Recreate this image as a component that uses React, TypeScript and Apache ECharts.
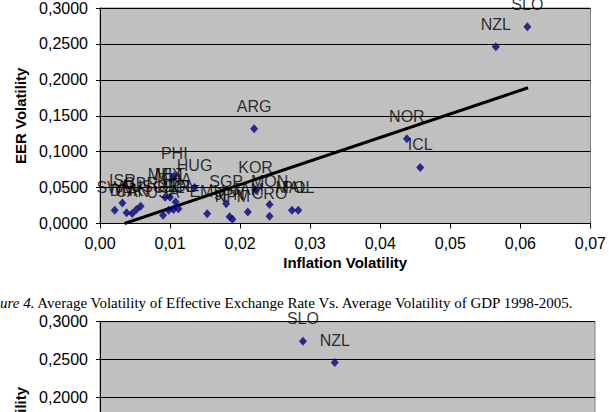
import React, { useEffect, useRef } from "react";
import * as echarts from "echarts";

// Figure: average EER volatility vs. average inflation volatility, per country
const countries = [
  "SLO", "NZL", "ARG", "NOR", "ICL", "PHI", "HUG", "KOR", "SGP", "MON",
  "CRO", "JPN", "NPM", "JAM", "EMU", "MAL", "POL", "SWE", "ISR", "DNK",
  "CAN", "AUS", "GBR", "USA", "CHL", "PER", "COL", "THA", "MEX", "MLT",
];
const inflationVol = [
  0.0610, 0.0565, 0.0220, 0.0438, 0.0457, 0.0106, 0.0135, 0.0222, 0.0180, 0.0242,
  0.0242, 0.0185, 0.0189, 0.0211, 0.0153, 0.0274, 0.0283, 0.0021, 0.0032, 0.0038,
  0.0046, 0.0052, 0.0058, 0.0090, 0.0098, 0.0105, 0.0112, 0.0108, 0.0093, 0.0100,
];
const eerVol = [
  0.2740, 0.2460, 0.1320, 0.1180, 0.0780, 0.0660, 0.0500, 0.0470, 0.0275, 0.0265,
  0.0100, 0.0095, 0.0058, 0.0160, 0.0137, 0.0185, 0.0185, 0.0185, 0.0285, 0.0148,
  0.0139, 0.0195, 0.0240, 0.0115, 0.0185, 0.0195, 0.0205, 0.0300, 0.0365, 0.0365,
];

// Linear trend line end points (inflation, EER)
const trendX = [0.0035, 0.0611];
const trendY = [0.0, 0.189];

// Second figure: EER volatility vs. GDP volatility
const gdpCountries = ["SLO", "NZL"];
const gdpVol = [0.0287, 0.0332];
const gdpEerVol = [0.274, 0.246];

const yTicks = { min: 0, max: 0.3, interval: 0.05 };
// lowest tick label of the second figure that falls inside the page
const secondFigureLowestLabel = 0.2;

const sans = "'Liberation Sans', Arial, sans-serif";
const serif = "'Liberation Serif', 'Times New Roman', serif";

const commaFmt = (digits: number) => (v: number) => v.toFixed(digits).replace(".", ",");

function App() {
  const ref = useRef<HTMLDivElement>(null);

  useEffect(() => {
    if (!ref.current) return;
    const chart = echarts.init(ref.current, null, { renderer: "svg" });

    const pts = countries.map((c, i) => ({ name: c, value: [inflationVol[i], eerVol[i]] }));
    const pts2 = gdpCountries.map((c, i) => ({ name: c, value: [gdpVol[i], gdpEerVol[i]] }));

    const pointLabel = {
      show: true,
      position: "top" as const,
      distance: 10,
      formatter: "{b}",
      fontFamily: sans,
      fontSize: 16,
      color: "#000",
    };

    const yAxisBase = (gridIndex: number, labelFormatter: (v: number) => string) => ({
      type: "value" as const,
      gridIndex,
      min: yTicks.min,
      max: yTicks.max,
      interval: yTicks.interval,
      name: "EER Volatility",
      nameLocation: "middle" as const,
      nameRotate: 90,
      nameGap: 72,
      nameTextStyle: { fontFamily: sans, fontSize: 15, fontWeight: "bold" as const, color: "#000" },
      axisLine: { show: true, lineStyle: { color: "#000", width: 1 } },
      axisTick: { show: true, length: 4, lineStyle: { color: "#000" } },
      axisLabel: {
        formatter: labelFormatter,
        fontFamily: sans,
        fontSize: 16,
        color: "#000",
        margin: 12,
      },
      splitLine: { show: true, lineStyle: { color: "#000", width: 1 } },
    });

    const fmt4 = commaFmt(4);

    chart.setOption({
      animation: false,
      backgroundColor: "#fff",
      grid: [
        {
          left: 100, top: 4.5, width: 498, height: 219,
          show: true, backgroundColor: "#c0c0c0", borderColor: "#808080", borderWidth: 1,
        },
        {
          left: 100, top: 321.7, width: 495, height: 226.8,
          show: true, backgroundColor: "#c0c0c0", borderColor: "#808080", borderWidth: 1,
        },
      ],
      xAxis: [
        {
          type: "value",
          gridIndex: 0,
          min: 0,
          max: 0.07,
          interval: 0.01,
          name: "Inflation Volatility",
          nameLocation: "middle",
          nameGap: 31,
          nameTextStyle: { fontFamily: sans, fontSize: 15, fontWeight: "bold", color: "#000" },
          axisLine: { show: true, lineStyle: { color: "#000", width: 1 } },
          axisTick: { show: true, length: 5, lineStyle: { color: "#000" } },
          axisLabel: { formatter: commaFmt(2), fontFamily: sans, fontSize: 16, color: "#000", margin: 12 },
          splitLine: { show: false },
        },
        {
          type: "value",
          gridIndex: 1,
          min: 0,
          max: 0.07,
          interval: 0.01,
          axisLine: { show: true, lineStyle: { color: "#000" } },
          axisTick: { show: false },
          axisLabel: { show: false },
          splitLine: { show: false },
        },
      ],
      yAxis: [
        yAxisBase(0, fmt4),
        yAxisBase(1, (v: number) => (v >= secondFigureLowestLabel - 1e-9 ? fmt4(v) : "")),
      ],
      graphic: [
        {
          type: "text",
          left: 0,
          top: 295,
          style: {
            text: "{i|ure 4.} Average Volatility of Effective Exchange Rate Vs. Average Volatility of GDP 1998-2005.",
            fontFamily: serif,
            fontSize: 15,
            fill: "#000",
            rich: {
              i: { fontFamily: serif, fontSize: 15, fontStyle: "italic", fill: "#000" },
            },
          },
        },
      ],
      series: [
        {
          type: "line",
          xAxisIndex: 0,
          yAxisIndex: 0,
          data: trendX.map((x, i) => [x, trendY[i]]),
          symbol: "none",
          lineStyle: { color: "#000", width: 3 },
          silent: true,
          z: 3,
        },
        {
          type: "scatter",
          xAxisIndex: 0,
          yAxisIndex: 0,
          data: pts,
          symbol: "diamond",
          symbolSize: [8, 9],
          itemStyle: { color: "#000080" },
          label: pointLabel,
          z: 4,
        },
        {
          type: "scatter",
          xAxisIndex: 1,
          yAxisIndex: 1,
          data: pts2,
          symbol: "diamond",
          symbolSize: [8, 9],
          itemStyle: { color: "#000080" },
          label: pointLabel,
          z: 4,
        },
      ],
    });

    return () => chart.dispose();
  }, []);

  // The drawing surface runs past the window's lower edge so the second
  // figure keeps its full scale; only its upper part is in view.
  return (
    <div
      ref={ref}
      style={{ position: "fixed", left: 0, top: 0, width: 609, height: 560, background: "#fff" }}
    />
  );
}

export default App;
